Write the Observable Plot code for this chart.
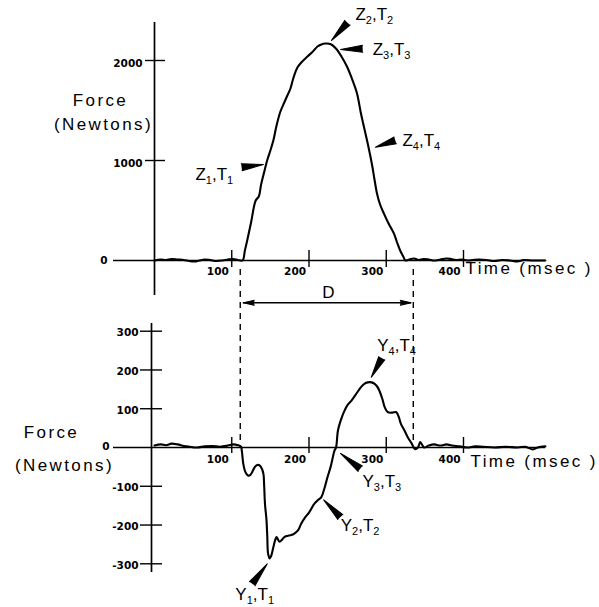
<!DOCTYPE html>
<html>
<head>
<meta charset="utf-8">
<script src="https://cdn.jsdelivr.net/npm/d3@7"></script>
<script src="https://cdn.jsdelivr.net/npm/@observablehq/plot@0.6"></script>
<style>
  html, body { margin: 0; padding: 0; background: #fff; }
  #chart { position: relative; width: 599px; height: 607px; overflow: hidden; background: #fff; }
  #chart svg { position: absolute; left: 0; top: 0; }
</style>
</head>
<body>
<div id="chart"></div>
<script>
// ---------------- DATA ----------------
const timeTicks = [100, 200, 300, 400];
const verticalForceTicks = [0, 1000, 2000];
const lateralForceTicks = [-300, -200, -100, 0, 100, 200, 300];

// Vertical force (top panel): time (msec), force (N)
const verticalTime = [0, 8, 15, 22, 30, 38, 45, 52, 58, 65, 72, 80, 88, 95, 102, 108, 114,
  117, 120, 125, 131, 135, 138, 141.5, 146, 150, 154, 158, 163, 168, 172, 176, 180, 185, 190, 198, 205, 211, 216, 221, 226, 230,
  236, 242, 249, 255, 262, 267, 271, 275, 279, 282, 285, 288, 292, 297, 303, 310, 314, 318, 322, 325,
  330, 336, 342, 348, 355, 362, 370, 378, 384, 390, 398, 405, 412, 420, 430, 440, 450, 460, 470, 478, 490, 506];
const verticalForce = [0, 10, 5, 15, 10, 5, -5, -10, 0, 10, 5, -5, 0, 10, 15, 5, 0,
  100, 200, 380, 600, 640, 760, 870, 1005, 1100, 1206, 1350, 1490, 1580, 1650, 1720, 1830, 1930, 1980, 2040, 2090, 2140, 2160, 2170, 2168, 2155,
  2110, 2040, 1943, 1830, 1675, 1480, 1340, 1206, 1060, 940, 800, 670, 560, 469, 370, 268, 180, 100, 40, 0,
  10, 20, 5, 15, 10, 0, 10, 20, 15, 5, 10, 0, 5, 10, 5, -5, 5, 0, -10, 5, 0, 0];

// Lateral force (bottom panel): time (msec), force (N)
const lateralTime = [0, 8, 15, 22, 30, 38, 45, 55, 65, 75, 85, 95, 102, 108, 112,
  113, 115, 117, 119, 121, 123.5, 126, 130, 133, 136, 139, 141, 142, 143, 145, 146, 147, 149, 151, 154, 156, 158, 160, 162, 165, 168, 172, 177, 181, 186, 190,
  195, 200, 207, 212, 216, 220, 224, 228, 233, 235, 237.5, 242, 246, 250, 255, 260, 267, 272, 276, 281, 285, 288, 291, 295, 298, 302, 308, 313, 316, 319, 324, 328, 333, 337, 341, 344, 347, 349,
  355, 362, 370, 378, 385, 395, 405, 415, 425, 440, 455, 470, 480, 490, 496, 506];
const lateralForce = [5, 8, 6, 10, 8, 4, 2, 0, 3, 4, 2, 5, 8, 6, 2,
  -8, -43, -60, -68, -72, -72, -65, -50, -45, -46, -55, -68, -100, -145, -188, -230, -273, -286, -280, -256, -240, -231, -238, -243, -238, -231, -228, -226, -222, -213, -196,
  -180, -168, -145, -135, -128, -105, -76, -50, -8, 0, 44, 75, 95, 110, 121, 135, 155, 165, 168, 168, 164, 158, 147, 125, 104, 91, 90, 91, 80, 61, 42, 26, 10, -4, 0, 14, 5, 0,
  5, 8, 5, 8, 5, 3, 0, 3, 2, 0, 2, 0, 2, -5, 0, 3];

// Duration D boundaries (msec)
const durationBounds = [111, 335];

// Marked points
const zLabels = ["Z1,T1", "Z2,T2", "Z3,T3", "Z4,T4"];
const zTime = [141, 229, 241, 286];
const zForce = [960, 2200, 2110, 1133];
const yLabels = ["Y1,T1", "Y2,T2", "Y3,T3", "Y4,T4"];
const yTime = [146, 219, 240.8, 280.5];
const yForce = [-300, -135, -15, 181];

// Axis titles
const forceTitle = ["Force", "(Newtons)"];
const timeTitle = "Time (msec )";

// ---------------- LAYOUT ----------------
const W = 599, H = 607;
const xPx = 0.7725;                       // px per msec
const xScale = {domain: [0, 500], range: [154, 154 + 500 * xPx]};
const topY = {domain: [0, 2000], range: [260, 60]};
const botY = {domain: [-300, 300], range: [563.3, 330.7]};
const pxT = p => p / xPx;                 // px -> msec
const pxTop = p => p * 2000 / 200;        // px -> N (top)
const pxBot = p => p * 600 / 232.6;       // px -> N (bottom)

const tickFont = "DejaVu Sans, sans-serif";
const labelFont = "Liberation Sans, Arial, Helvetica, sans-serif";

// arrow (wedge) + label offsets, per point (px)
const zArrow = {rotate: [83, 222, 268, 251], length: [22, 24, 22, 21], dx: [-68, 24, 32, 27], dy: [10, -26, 0, -7]};
const yArrow = {rotate: [37, 316, 308, 209], length: [25, 24, 25, 22], dx: [-32, 17, 22, 6], dy: [31, 26, 28, -32]};

function rows(t, f) { return t.map((d, i) => ({t: d, f: f[i]})); }
function pts(labels, t, f, cfg) {
  return labels.map((l, i) => ({label: l, t: t[i], f: f[i], rotate: cfg.rotate[i], length: cfg.length[i], dx: cfg.dx[i], dy: cfg.dy[i]}));
}

function markerMarks(points) {
  const marks = [];
  points.forEach(p => {
    marks.push(Plot.vector([p], {x: "t", y: "f", rotate: p.rotate, length: p.length, shape: "spike", anchor: "end", r: 3.5, fill: "black", stroke: "black", strokeWidth: 1}));
    marks.push(Plot.text([p], {x: "t", y: "f", text: "label", dx: p.dx, dy: p.dy, textAnchor: "start", lineAnchor: "middle", fontSize: 17, fontFamily: labelFont}));
  });
  return marks;
}

const subLabels = new Set([...zLabels, ...yLabels]);
const titleSet = new Set([...forceTitle, timeTitle]);

function postProcess(svg) {
  d3.select(svg).selectAll("text").each(function () {
    const s = this.textContent;
    const el = d3.select(this);
    if (titleSet.has(s)) {
      el.style("letter-spacing", "2.4px");
    } else if (subLabels.has(s)) {
      el.text(null);
      let shifted = false;
      for (const ch of s) {
        const isDigit = /[0-9]/.test(ch);
        const ts = el.append("tspan").text(ch);
        if (isDigit) {
          ts.attr("font-size", 11);
          if (!shifted) { ts.attr("dy", 4); shifted = true; }
        } else if (shifted) {
          ts.attr("dy", -4); shifted = false;
        }
      }
    }
  });
}

const common = {width: W, height: H, x: {...xScale, axis: null}, style: {background: "transparent", overflow: "visible"}};
const tickText = {fontSize: 10.5, fontWeight: "bold", fontFamily: tickFont};
const titleText = {textAnchor: "middle", lineAnchor: "middle", fontSize: 17, fontFamily: labelFont};

// ---------------- TOP PANEL ----------------
const topPlot = Plot.plot({
  ...common,
  y: {...topY, axis: null},
  marks: [
    Plot.ruleY([0], {x1: pxT(113 - 154), x2: pxT(545 - 154), strokeWidth: 1.7}),
    Plot.ruleX([0], {y1: pxTop(-35), y2: pxTop(238), strokeWidth: 1.7}),
    Plot.ruleX(timeTicks, {x: d => d, y1: pxTop(-7), y2: pxTop(10), strokeWidth: 1.4}),
    Plot.ruleY(verticalForceTicks.filter(d => d !== 0), {y: d => d, x1: pxT(-9), x2: pxT(11), strokeWidth: 1.4}),
    Plot.text(verticalForceTicks.filter(d => d !== 0), {x: 0, y: d => d, text: d => String(d), dx: -12, dy: 3, textAnchor: "end", ...tickText}),
    Plot.text(verticalForceTicks.filter(d => d === 0), {x: pxT(113 - 154), y: d => d, text: d => String(d), dx: -6, dy: 0, textAnchor: "end", ...tickText}),
    Plot.text(timeTicks, {x: d => d, y: 0, text: d => String(d), dx: -3, dy: 11, textAnchor: "end", ...tickText}),
    Plot.line(rows(verticalTime, verticalForce), {x: "t", y: "f", stroke: "black", strokeWidth: 2.1, curve: "catmull-rom"}),
    Plot.text([forceTitle[0]], {x: pxT(100 - 154), y: pxTop(260 - 100), text: d => d, ...titleText}),
    Plot.text([forceTitle[1]], {x: pxT(103 - 154), y: pxTop(260 - 124), text: d => d, ...titleText}),
    Plot.text([timeTitle], {x: pxT(465 - 154), y: pxTop(260 - 268.5), text: d => d, ...titleText, textAnchor: "start"}),
    ...markerMarks(pts(zLabels, zTime, zForce, zArrow))
  ]
});

// ---------------- BOTTOM PANEL ----------------
const botAxisT = pxT(151 - 154);
const dY = pxBot(447 - 302.3);
const botPlot = Plot.plot({
  ...common,
  y: {...botY, axis: null},
  marks: [
    Plot.ruleY([0], {x1: pxT(113 - 154), x2: pxT(545 - 154), strokeWidth: 1.7}),
    Plot.ruleX([botAxisT], {y1: pxBot(447 - 572), y2: pxBot(447 - 323), strokeWidth: 1.7}),
    Plot.ruleX(timeTicks, {x: d => d, y1: pxBot(-6), y2: pxBot(10), strokeWidth: 1.4}),
    Plot.ruleY(lateralForceTicks.filter(d => d !== 0), {y: d => d, x1: botAxisT + pxT(-11), x2: botAxisT + pxT(11), strokeWidth: 1.4}),
    Plot.text(lateralForceTicks.filter(d => d !== 0), {x: botAxisT, y: d => d, text: d => String(d), dx: -13, dy: 1.5, textAnchor: "end", ...tickText}),
    Plot.text(lateralForceTicks.filter(d => d === 0), {x: pxT(113 - 154), y: d => d, text: d => String(d), dx: -4, dy: -1, textAnchor: "end", ...tickText}),
    Plot.text(timeTicks, {x: d => d, y: 0, text: d => String(d), dx: -3, dy: 12.5, textAnchor: "end", ...tickText}),
    Plot.ruleX(durationBounds, {x: d => d, y1: pxBot(447 - 440), y2: pxBot(447 - 268), strokeWidth: 1.4, strokeDasharray: "6,5"}),
    Plot.ruleY([dY], {x1: durationBounds[0] + pxT(3), x2: durationBounds[1] - pxT(2), strokeWidth: 1.4}),
    Plot.vector([{t: durationBounds[0] + pxT(3), f: dY, r: 270}, {t: durationBounds[1] - pxT(2), f: dY, r: 90}], {x: "t", y: "f", rotate: "r", length: 11, shape: "spike", anchor: "end", r: 2.5, fill: "black", stroke: "black", strokeWidth: 1}),
    Plot.text(["D"], {x: pxT(328 - 154), y: pxBot(447 - 292), text: d => d, ...titleText}),
    Plot.line(rows(lateralTime, lateralForce), {x: "t", y: "f", stroke: "black", strokeWidth: 2.1, curve: "catmull-rom"}),
    Plot.text([forceTitle[0]], {x: pxT(51 - 154), y: pxBot(447 - 432.5), text: d => d, ...titleText}),
    Plot.text([forceTitle[1]], {x: pxT(64 - 154), y: pxBot(447 - 465), text: d => d, ...titleText}),
    Plot.text([timeTitle], {x: pxT(470 - 154), y: pxBot(447 - 461), text: d => d, ...titleText, textAnchor: "start"}),
    ...markerMarks(pts(yLabels, yTime, yForce, yArrow))
  ]
});

postProcess(topPlot);
postProcess(botPlot);
const chart = document.getElementById("chart");
chart.appendChild(topPlot);
chart.appendChild(botPlot);
</script>
</body>
</html>
